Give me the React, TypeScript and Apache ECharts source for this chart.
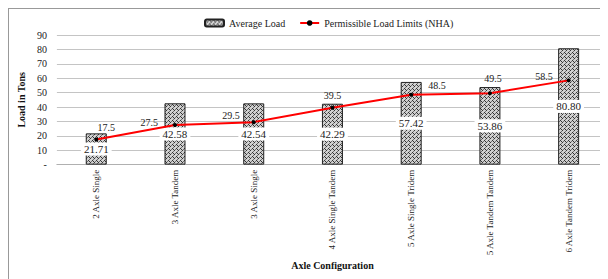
import React, { useEffect, useRef } from "react";
import * as echarts from "echarts";

const categories = [
  "2 Axle Single",
  "3 Axle Tandem",
  "3 Axle Single",
  "4 Axle Single Tandem",
  "5 Axle Single Tridem",
  "5 Axle Tandem Tandem",
  "6 Axle Tandem Tridem",
];
const averageLoad = [21.71, 42.58, 42.54, 42.29, 57.42, 53.86, 80.8];
const permissibleLimits = [17.5, 27.5, 29.5, 39.5, 48.5, 49.5, 58.5];
const lineLabelPlacement: [string, number[]][] = [
  ["top", [10, 0]],
  ["left", [-10, -3]],
  ["left", [-7, -7]],
  ["top", [0, 0]],
  ["right", [10, -9]],
  ["top", [3, -3]],
  ["left", [-9, -4]],
];

function makePattern(): string {
  const c = document.createElement("canvas");
  c.width = 4;
  c.height = 4;
  const ctx = c.getContext("2d");
  if (ctx) {
    ctx.fillStyle = "#d0d0d0";
    ctx.fillRect(0, 0, 4, 4);
    ctx.fillStyle = "#333";
    ctx.fillRect(0, 0, 1, 1);
    ctx.fillRect(2, 2, 1, 1);
    ctx.fillRect(1, 1, 1, 1);
    ctx.fillStyle = "#707070";
    ctx.fillRect(3, 1, 1, 1);
    ctx.fillRect(1, 3, 1, 1);
  }
  return c.toDataURL();
}

export default function App() {
  const ref = useRef<HTMLDivElement>(null);
  useEffect(() => {
    if (!ref.current) return;
    const chart = echarts.init(ref.current, null, { renderer: "svg" });
    const font = "'Liberation Serif', 'Times New Roman', serif";
    const pattern = { image: makePattern(), repeat: "repeat" as const };
    chart.setOption({
      animation: false,
      textStyle: { fontFamily: font },
      graphic: [
        { type: "line", shape: { x1: 0, y1: 0.5, x2: 600, y2: 0.5 }, style: { stroke: "#999", lineWidth: 1 } },
        { type: "line", shape: { x1: 0.5, y1: 0, x2: 0.5, y2: 271 }, style: { stroke: "#999", lineWidth: 1 } },
      ],
      legend: {
        top: 5,
        left: 191,
        itemWidth: 19,
        itemHeight: 7,
        itemGap: 14,
        textStyle: { fontFamily: font, fontSize: 10, color: "#222" },
        data: ["Average Load", "Permissible Load Limits (NHA)"],
      },
      grid: { left: 47, top: 27, width: 554.4, height: 154.5 },
      xAxis: {
        type: "category",
        data: categories,
        name: "Axle Configuration",
        nameLocation: "middle",
        nameGap: 77,
        nameTextStyle: { fontFamily: font, fontSize: 10, fontWeight: "bold", color: "#111" },
        axisLine: { lineStyle: { color: "#b0b0b0", width: 1 } },
        axisTick: { show: false },
        axisLabel: { rotate: 90, fontSize: 9, color: "#222", fontFamily: font, margin: 5 },
      },
      yAxis: {
        type: "value",
        min: 0,
        max: 90,
        interval: 10,
        name: "Load in Tons",
        nameLocation: "middle",
        nameGap: 26,
        nameTextStyle: { fontFamily: font, fontSize: 10, fontWeight: "bold", color: "#111" },
        axisLine: { show: false },
        axisTick: { show: false },
        splitLine: { lineStyle: { color: "#c4c4c4", width: 1 } },
        axisLabel: {
          fontSize: 10,
          color: "#222",
          fontFamily: font,
          margin: 10,
          formatter: (v: number) => (v === 0 ? "-" : String(v)),
        },
      },
      series: [
        {
          name: "Average Load",
          type: "bar",
          barWidth: 21,
          data: averageLoad,
          itemStyle: { color: pattern, borderColor: "#222", borderWidth: 1 },
          label: {
            show: true,
            position: "inside",
            fontFamily: font,
            fontSize: 11,
            color: "#222",
            backgroundColor: "#fff",
            padding: [1, 3],
            formatter: (p: any) => Number(p.value).toFixed(2),
          },
          z: 2,
        },
        {
          name: "Permissible Load Limits (NHA)",
          type: "line",
          data: permissibleLimits.map((v, i) => ({
            value: v,
            label: { position: lineLabelPlacement[i][0], offset: lineLabelPlacement[i][1] },
          })),
          lineStyle: { color: "#ff0000", width: 2 },
          itemStyle: { color: "#000" },
          symbol: "circle",
          symbolSize: 4,
          label: { show: true, fontFamily: font, fontSize: 10, color: "#222" },
          z: 3,
        },
      ],
    });
    return () => chart.dispose();
  }, []);
  return <div ref={ref} style={{ width: 600, height: 271 }} />;
}
